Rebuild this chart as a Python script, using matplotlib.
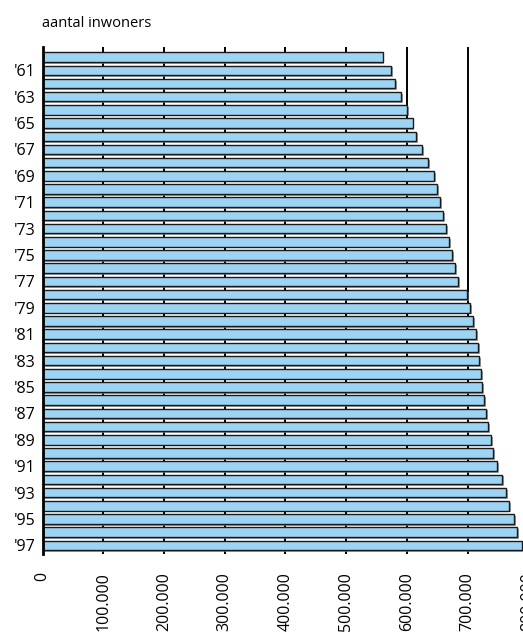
import matplotlib
matplotlib.use("Agg")
from matplotlib import pyplot as plt
from matplotlib import patheffects as pe

# jaren '60 t/m '97 en aantal inwoners
years = list(range(1960, 1998))
inwoners = [560000, 574000, 580000, 590000, 600000, 609500, 615000, 625000, 635000, 645000,
            649500, 654500, 659500, 664000, 669000, 674000, 679000, 684000, 699500, 704000,
            709000, 714000, 717000, 719000, 722000, 724000, 727000, 730000, 734000, 739000,
            742000, 749000, 757000, 764000, 769000, 777000, 781000, 790000]
xticks = list(range(0, 800001, 100000))
xticklabels = ['0'] + [f'{v // 1000}.000' for v in xticks[1:]]

plt.rcParams['font.family'] = ['Open Sans', 'DejaVu Sans']

fig = plt.figure(figsize=(5.23, 6.33), dpi=100)
ax = fig.add_axes([0.0816, 0.1248, 0.9285, 0.8009])

pos = list(range(len(years)))
bars = ax.barh(pos, inwoners, height=0.72, color='#9dd4f4', edgecolor='#1a1a1a',
               linewidth=1.0, zorder=3)
for b in bars:
    b.set_path_effects([pe.SimplePatchShadow(offset=(1.3, -1.3), shadow_rgbFace='#777777', alpha=0.7),
                        pe.Normal()])

ax.set_xlim(0, 800000)
ax.set_ylim(len(years) - 1 + 0.65, -0.76)
ax.set_xticks(xticks)
ax.set_xticklabels(xticklabels, rotation=90, va='top', ha='center', fontsize=11.5)
ytick_pos = [i for i, y in enumerate(years) if y % 2 == 1]
ax.set_yticks(ytick_pos)
ax.set_yticklabels([f"'{years[i] % 100:02d}" for i in ytick_pos], fontsize=11.5)
ax.tick_params(axis='x', length=0, pad=13)
ax.tick_params(axis='y', length=0, pad=5)
ax.grid(axis='x', color='black', linewidth=1.4, zorder=0)
ax.set_axisbelow(True)
for s in ['top', 'right', 'bottom']:
    ax.spines[s].set_visible(False)
ax.spines['left'].set_linewidth(2)
ax.spines['left'].set_zorder(5)

fig.text(0.0803, 0.963, 'aantal inwoners', fontsize=10.5, ha='left', va='center')

fig.savefig('out.png', dpi=100)
